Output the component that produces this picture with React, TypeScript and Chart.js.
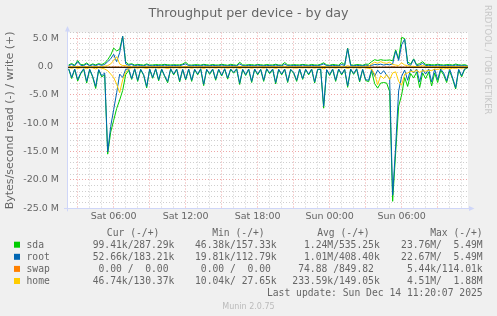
import React, { useEffect, useRef } from 'react';
import { Chart, registerables } from 'chart.js';

Chart.register(...registerables);

// ---------- text ----------
const TITLE = 'Throughput per device - by day';
const Y_TITLE = 'Bytes/second read (-) / write (+)';
const WATERMARK = 'RRDTOOL / TOBI OETIKER';
const VERSION = 'Munin 2.0.75';
const LAST_UPDATE = 'Last update: Sun Dec 14 11:20:07 2025';

// ---------- series ----------
const DEVICES = ['sda', 'root', 'swap', 'home'];
const COLORS = ['#00CC00', '#0066B3', '#FF8000', '#FFCC00'];

// samples every 15 min starting Sat 02:15 (hours since Sat 00:00)
const START_HOUR = 2.25;
const STEP_HOUR = 0.25;

// x axis: hours since Sat 00:00
const X_MIN = 2.11;
const X_MAX = 35.53;
const X_TICK_HOURS = [6, 12, 18, 24, 30];
const X_TICK_LABELS = ['Sat 06:00', 'Sat 12:00', 'Sat 18:00', 'Sun 00:00', 'Sun 06:00'];

// y axis (bytes/second)
const Y_MIN = -25e6;
const Y_MAX = 6.17e6;
const Y_TICK_VALUES = [5, 0, -5, -10, -15, -20, -25];
const Y_TICK_LABELS = ['5.0 M', '0.0  ', '-5.0 M', '-10.0 M', '-15.0 M', '-20.0 M', '-25.0 M'];

// read rates (MB/s, drawn negative)
const sdaRead = [
  0.32, 2.0, 0.38, 2.45, 1.15, 0.33, 2.8, 0.42, 1.75, 3.75,
  0.5, 1.7, 1.35, 15.4, 11.5, 9.4, 7.3, 5.8, 4.1, 1.3,
  0.55, 2.15, 0.33, 2.5, 0.42, 1.45, 3.65, 0.38, 1.95, 0.33,
  2.4, 0.38, 1.65, 2.75, 0.33, 1.35, 0.38, 2.6, 0.42, 2.25,
  0.38, 2.5, 0.42, 1.35, 0.33, 3.25, 0.42, 1.25, 0.38, 2.3,
  0.42, 1.55, 0.33, 2.1, 0.38, 1.05, 0.33, 3.05, 0.42, 1.45,
  0.38, 2.7, 0.38, 1.35, 0.42, 2.5, 0.33, 1.15, 0.38, 2.95,
  0.42, 1.35, 0.38, 2.7, 0.42, 1.05, 2.5, 0.38, 2.15, 0.42,
  1.35, 0.38, 2.8, 0.42, 0.38, 7.25, 0.48, 1.45, 0.38, 2.5,
  0.38, 1.35, 0.42, 3.55, 0.38, 1.25, 0.33, 2.6, 0.42, 2.35,
  2.55, 0.7, 2.9, 3.7, 2.8, 2.7, 2.8, 4.3, 23.76, 15.2,
  6.9, 4.9, 1.8, 3.4, 1.1, 1.9, 0.85, 3.6, 1.0, 2.0,
  0.85, 3.3, 1.0, 2.7, 0.55, 1.35, 2.7, 0.65, 2.1, 3.85,
  0.5, 1.7, 0.38, 0.099,
];
const rootRead = [
  0.25, 1.8, 0.3, 2.2, 1.0, 0.25, 2.5, 0.35, 1.6, 3.4,
  0.4, 1.5, 1.0, 15.0, 10.5, 7.5, 4.5, 1.2, 1.8, 0.35,
  0.3, 2.0, 0.25, 2.3, 0.35, 1.3, 3.4, 0.3, 1.8, 0.25,
  2.2, 0.3, 1.5, 2.5, 0.25, 1.2, 0.3, 2.4, 0.35, 2.1,
  0.3, 2.3, 0.35, 1.2, 0.25, 3.0, 0.35, 1.1, 0.3, 2.1,
  0.35, 1.4, 0.25, 1.9, 0.3, 0.9, 0.25, 2.8, 0.35, 1.3,
  0.3, 2.5, 0.3, 1.2, 0.35, 2.3, 0.25, 1.0, 0.3, 2.7,
  0.35, 1.2, 0.3, 2.5, 0.35, 0.9, 2.3, 0.3, 2.0, 0.35,
  1.2, 0.3, 2.6, 0.35, 0.3, 6.9, 0.4, 1.3, 0.3, 2.3,
  0.3, 1.2, 0.35, 3.3, 0.3, 1.1, 0.25, 2.4, 0.35, 2.2,
  2.3, 0.35, 1.6, 0.5, 1.2, 0.6, 1.4, 2.0, 22.67, 14.0,
  4.2, 1.6, 0.5, 2.3, 0.35, 1.0, 0.3, 2.6, 0.35, 1.2,
  0.3, 2.6, 0.35, 2.2, 0.3, 1.0, 2.4, 0.3, 1.9, 3.6,
  0.35, 1.5, 0.25, 0.053,
];
const swapRead = [
  0, 0, 0, 0, 0, 0, 0, 0, 0, 0,
  0, 0, 0, 0, 0, 0, 0, 0.003, 0, 0,
  0, 0, 0, 0, 0, 0, 0, 0, 0, 0,
  0, 0, 0, 0, 0, 0, 0, 0, 0, 0,
  0, 0, 0, 0, 0, 0, 0, 0, 0, 0,
  0, 0, 0, 0, 0, 0, 0, 0, 0, 0,
  0, 0, 0, 0, 0, 0, 0, 0, 0, 0,
  0, 0, 0, 0, 0, 0, 0, 0, 0, 0,
  0, 0, 0, 0, 0, 0, 0, 0, 0, 0,
  0, 0, 0, 0, 0, 0, 0, 0, 0, 0,
  0, 0, 0, 0, 0, 0, 0, 0, 0.005, 0,
  0, 0, 0, 0, 0, 0, 0, 0, 0, 0,
  0, 0, 0, 0, 0, 0, 0, 0, 0, 0,
  0, 0, 0, 0,
];
const homeRead = [
  0.05, 0.15, 0.05, 0.2, 0.1, 0.05, 0.25, 0.05, 0.1, 0.3,
  0.05, 0.15, 0.3, 0.6, 1.2, 1.8, 3.0, 4.51, 2.2, 0.9,
  0.2, 0.1, 0.05, 0.15, 0.05, 0.1, 0.2, 0.05, 0.1, 0.05,
  0.15, 0.05, 0.1, 0.2, 0.05, 0.1, 0.05, 0.15, 0.05, 0.1,
  0.05, 0.15, 0.05, 0.1, 0.05, 0.2, 0.05, 0.1, 0.05, 0.15,
  0.05, 0.1, 0.05, 0.15, 0.05, 0.1, 0.05, 0.2, 0.05, 0.1,
  0.05, 0.15, 0.05, 0.1, 0.05, 0.15, 0.05, 0.1, 0.05, 0.2,
  0.05, 0.1, 0.05, 0.15, 0.05, 0.1, 0.15, 0.05, 0.1, 0.05,
  0.1, 0.05, 0.15, 0.05, 0.05, 0.3, 0.05, 0.1, 0.05, 0.15,
  0.05, 0.1, 0.05, 0.2, 0.05, 0.1, 0.05, 0.15, 0.05, 0.1,
  0.2, 0.3, 1.2, 3.1, 1.5, 2.0, 1.3, 2.2, 1.0, 0.8,
  2.5, 3.2, 1.2, 1.0, 0.7, 0.8, 0.5, 0.9, 0.6, 0.7,
  0.5, 0.6, 0.3, 0.4, 0.2, 0.3, 0.2, 0.3, 0.15, 0.2,
  0.1, 0.15, 0.1, 0.047,
];

// write rates (MB/s, drawn positive)
const sdaWrite = [
  0.43, 0.67, 0.36, 1.2, 0.48, 0.45, 0.77, 0.36, 0.6, 0.43,
  0.65, 0.48, 0.75, 1.35, 2.15, 3.4, 2.9, 3.2, 5.49, 0.95,
  0.52, 0.63, 0.4, 0.51, 0.47, 0.38, 0.6, 0.41, 0.42, 0.48,
  0.45, 0.44, 0.52, 0.45, 0.42, 0.46, 0.44, 0.43, 0.57, 0.9,
  0.43, 0.4, 0.46, 0.47, 0.39, 0.52, 0.46, 0.38, 0.5, 0.41,
  0.42, 0.53, 0.45, 0.37, 0.53, 0.44, 0.36, 0.9, 0.43, 0.4,
  0.47, 0.47, 0.39, 0.51, 0.46, 0.38, 0.5, 0.42, 0.42, 0.54,
  0.41, 0.4, 0.85, 0.43, 0.41, 0.47, 0.44, 0.42, 0.51, 0.45,
  0.38, 0.51, 0.42, 0.4, 0.54, 0.8, 0.43, 0.36, 0.51, 0.44,
  0.37, 0.85, 0.43, 3.4, 0.45, 0.37, 0.49, 0.46, 0.36, 0.55,
  0.55, 1.0, 1.35, 1.2, 1.35, 1.25, 1.25, 1.3, 1.15, 3.1,
  1.5, 5.3, 5.1, 0.95, 0.6, 1.5, 0.47, 0.65, 1.0, 0.5,
  0.52, 0.45, 0.44, 0.54, 0.47, 0.4, 0.48, 0.48, 0.4, 0.57,
  0.45, 0.39, 0.47, 0.287,
];
const rootWrite = [
  0.3, 0.5, 0.25, 1.0, 0.35, 0.3, 0.6, 0.25, 0.45, 0.3,
  0.5, 0.35, 0.5, 1.0, 1.5, 2.3, 1.0, 2.6, 5.49, 0.6,
  0.35, 0.5, 0.25, 0.4, 0.3, 0.25, 0.45, 0.3, 0.25, 0.35,
  0.3, 0.25, 0.4, 0.3, 0.25, 0.35, 0.3, 0.25, 0.45, 0.6,
  0.3, 0.25, 0.35, 0.3, 0.25, 0.4, 0.3, 0.25, 0.35, 0.3,
  0.25, 0.4, 0.3, 0.25, 0.35, 0.3, 0.25, 0.6, 0.3, 0.25,
  0.35, 0.3, 0.25, 0.4, 0.3, 0.25, 0.35, 0.3, 0.25, 0.4,
  0.3, 0.25, 0.55, 0.3, 0.25, 0.35, 0.3, 0.25, 0.4, 0.3,
  0.25, 0.35, 0.3, 0.25, 0.4, 0.6, 0.3, 0.25, 0.35, 0.3,
  0.25, 0.5, 0.3, 3.3, 0.3, 0.25, 0.35, 0.3, 0.25, 0.4,
  0.3, 0.35, 0.5, 0.45, 0.55, 0.4, 0.5, 0.45, 0.6, 2.9,
  1.2, 4.0, 5.0, 0.6, 0.35, 1.4, 0.3, 0.4, 0.7, 0.3,
  0.35, 0.3, 0.25, 0.4, 0.3, 0.25, 0.35, 0.3, 0.25, 0.4,
  0.3, 0.25, 0.3, 0.183,
];
const swapWrite = [
  0, 0, 0, 0, 0, 0, 0, 0, 0, 0,
  0, 0, 0, 0, 0, 0.02, 0.05, 0, 0, 0,
  0, 0, 0, 0, 0, 0, 0, 0, 0, 0,
  0, 0, 0, 0, 0, 0, 0, 0, 0, 0,
  0, 0, 0, 0, 0, 0, 0, 0, 0, 0,
  0, 0, 0, 0, 0, 0, 0, 0, 0, 0,
  0, 0, 0, 0, 0, 0, 0, 0, 0, 0,
  0, 0, 0, 0, 0, 0, 0, 0, 0, 0,
  0, 0, 0, 0, 0, 0, 0, 0, 0, 0,
  0, 0, 0, 0, 0, 0, 0, 0, 0, 0,
  0, 0, 0, 0, 0, 0, 0.03, 0, 0.114, 0.02,
  0, 0, 0, 0, 0, 0, 0, 0, 0, 0,
  0, 0, 0, 0, 0, 0, 0, 0, 0, 0,
  0, 0, 0, 0,
];
const homeWrite = [
  0.08, 0.12, 0.06, 0.15, 0.08, 0.1, 0.12, 0.06, 0.1, 0.08,
  0.1, 0.08, 0.2, 0.3, 0.6, 1.2, 1.88, 0.6, 0.3, 0.3,
  0.12, 0.08, 0.1, 0.06, 0.12, 0.08, 0.1, 0.06, 0.12, 0.08,
  0.1, 0.14, 0.07, 0.1, 0.12, 0.06, 0.09, 0.13, 0.07, 0.15,
  0.08, 0.1, 0.06, 0.12, 0.09, 0.07, 0.11, 0.08, 0.1, 0.06,
  0.12, 0.08, 0.1, 0.07, 0.13, 0.09, 0.06, 0.18, 0.08, 0.1,
  0.07, 0.12, 0.09, 0.06, 0.11, 0.08, 0.1, 0.07, 0.12, 0.09,
  0.06, 0.1, 0.2, 0.08, 0.11, 0.07, 0.09, 0.12, 0.06, 0.1,
  0.08, 0.11, 0.07, 0.1, 0.09, 0.15, 0.08, 0.06, 0.11, 0.09,
  0.07, 0.12, 0.08, 0.3, 0.1, 0.07, 0.09, 0.11, 0.06, 0.1,
  0.2, 0.6, 0.9, 0.7, 1.0, 0.8, 0.7, 0.9, 0.5, 0.4,
  0.3, 0.8, 0.4, 0.3, 0.2, 0.15, 0.12, 0.2, 0.3, 0.15,
  0.12, 0.1, 0.14, 0.09, 0.12, 0.1, 0.08, 0.13, 0.1, 0.12,
  0.1, 0.09, 0.12, 0.13,
];

// ---------- legend statistics ----------
const LEGEND_HEADERS = ['Cur (-/+)', 'Min (-/+)', 'Avg (-/+)', 'Max (-/+)'];
const CUR = [' 99.41k/287.29k', ' 52.66k/183.21k', '  0.00 /  0.00 ', ' 46.74k/130.37k'];
const MIN = [' 46.38k/157.33k', ' 19.81k/112.79k', '  0.00 /  0.00 ', ' 10.04k/ 27.65k'];
const AVG = ['  1.24M/535.25k', '  1.01M/408.40k', ' 74.88 /849.82 ', '233.59k/149.05k'];
const MAX = ['23.76M/  5.49M', '22.67M/  5.49M', '5.44k/114.01k', '4.51M/  1.88M'];

const READS = [sdaRead, rootRead, swapRead, homeRead];
const WRITES = [sdaWrite, rootWrite, swapWrite, homeWrite];

const FONT_SANS = 'DejaVu Sans';
const FONT_MONO = 'DejaVu Sans Mono';
const TEXT_COLOR = '#666666';
const AXIS_COLOR = '#CFD6F8';
const GRID_MINOR = 'rgba(140,140,140,0.42)';
const GRID_MAJOR = 'rgba(222,79,79,0.5)';

const toPoints = (arr: number[], sign: number) =>
  arr.map((v, i) => ({ x: START_HOUR + i * STEP_HOUR, y: sign * v * 1e6 }));

const decorPlugin = {
  id: 'muninDecor',
  beforeDraw(chart: any) {
    const { ctx, chartArea: a, width, height } = chart;
    ctx.save();
    ctx.fillStyle = '#F0F0F0';
    ctx.fillRect(0, 0, width, height);
    ctx.fillStyle = '#FFFFFF';
    ctx.fillRect(a.left, a.top, a.right - a.left, a.bottom - a.top);
    ctx.restore();
  },
  afterDraw(chart: any) {
    const { ctx, chartArea: a } = chart;
    ctx.save();
    // axes + arrows
    ctx.strokeStyle = AXIS_COLOR;
    ctx.fillStyle = AXIS_COLOR;
    ctx.lineWidth = 1;
    const ax = Math.round(a.left) + 0.5;
    const ay = Math.round(a.bottom) + 0.5;
    ctx.beginPath();
    ctx.moveTo(ax, a.bottom + 3);
    ctx.lineTo(ax, a.top - 3);
    ctx.moveTo(a.left - 3, ay);
    ctx.lineTo(a.right + 2, ay);
    ctx.stroke();
    ctx.beginPath();
    ctx.moveTo(ax - 2.5, a.top - 1);
    ctx.lineTo(ax + 2.5, a.top - 1);
    ctx.lineTo(ax, a.top - 6.5);
    ctx.closePath();
    ctx.fill();
    ctx.beginPath();
    ctx.moveTo(a.right + 1, ay - 2.5);
    ctx.lineTo(a.right + 1, ay + 2.5);
    ctx.lineTo(a.right + 6.5, ay);
    ctx.closePath();
    ctx.fill();

    // title
    ctx.fillStyle = TEXT_COLOR;
    ctx.font = `12.7px "${FONT_SANS}"`;
    ctx.textAlign = 'center';
    ctx.textBaseline = 'alphabetic';
    ctx.fillText(TITLE, 248.5, 17.3);

    // watermark
    ctx.save();
    ctx.translate(484.5, 5);
    ctx.rotate(Math.PI / 2);
    ctx.fillStyle = '#C8C8C8';
    ctx.font = `8.5px "${FONT_SANS}"`;
    ctx.textAlign = 'left';
    ctx.textBaseline = 'alphabetic';
    ctx.fillText(WATERMARK, 0, 0);
    ctx.restore();

    // legend table
    ctx.font = `9.7px "${FONT_MONO}"`;
    ctx.fillStyle = TEXT_COLOR;
    ctx.textBaseline = 'alphabetic';
    const headerY = 236.3;
    ctx.textAlign = 'left';
    ctx.fillText(LEGEND_HEADERS[0], 106.8, headerY);
    ctx.fillText(LEGEND_HEADERS[1], 212.2, headerY);
    ctx.fillText(LEGEND_HEADERS[2], 317.2, headerY);
    ctx.textAlign = 'right';
    ctx.fillText(LEGEND_HEADERS[3], 482.7, headerY);
    DEVICES.forEach((name, r) => {
      const y = 248 + r * 12.1;
      ctx.fillStyle = COLORS[r];
      ctx.fillRect(14, y - 6.3, 6, 6);
      ctx.fillStyle = TEXT_COLOR;
      ctx.textAlign = 'left';
      ctx.fillText(name, 26.5, y);
      ctx.fillText(CUR[r], 86.85, y);
      ctx.fillText(MIN[r], 189.15, y);
      ctx.fillText(AVG[r], 292.3, y);
      ctx.textAlign = 'right';
      ctx.fillText(MAX[r], 482.7, y);
    });
    ctx.textAlign = 'right';
    ctx.fillText(LAST_UPDATE, 482.7, 296.3);

    // version
    ctx.fillStyle = '#BBBBBB';
    ctx.font = `8px "${FONT_SANS}"`;
    ctx.textAlign = 'center';
    ctx.fillText(VERSION, 248.5, 309);
    ctx.restore();
  },
};

export default function App() {
  const ref = useRef<HTMLCanvasElement>(null);

  useEffect(() => {
    const canvas = ref.current;
    if (!canvas) return;

    const datasets: any[] = [];
    // zero rule on top
    datasets.push({
      label: 'zero',
      data: [{ x: X_MIN, y: 0 }, { x: X_MAX, y: 0 }],
      borderColor: '#000000',
      borderWidth: 1,
      pointRadius: 0,
      order: 0,
    });
    // rrdtool draws later fields on top: sda (bottom) ... home (top)
    DEVICES.forEach((name, d) => {
      const order = 10 - d;
      datasets.push({
        label: name + ' read',
        data: toPoints(READS[d], -1),
        borderColor: COLORS[d],
        borderWidth: 1,
        pointRadius: 0,
        tension: 0,
        order,
      });
      datasets.push({
        label: name + ' write',
        data: toPoints(WRITES[d], 1),
        borderColor: COLORS[d],
        borderWidth: 1,
        pointRadius: 0,
        tension: 0,
        order,
      });
    });

    const chart = new Chart(canvas, {
      type: 'line',
      data: { datasets },
      options: {
        animation: false,
        responsive: false,
        devicePixelRatio: 1,
        events: [],
        layout: { padding: { left: 0, right: 29, top: 32.5, bottom: 87.7 } },
        plugins: {
          legend: { display: false },
          tooltip: { enabled: false },
          title: { display: false },
        },
        scales: {
          x: {
            type: 'linear',
            min: X_MIN,
            max: X_MAX,
            afterFit: (s: any) => {
              s.height = 20;
            },
            grid: {
              drawTicks: false,
              lineWidth: 1,
              color: (c: any) => (Math.round(c.tick.value) % 3 === 0 ? GRID_MAJOR : GRID_MINOR),
            },
            border: { display: false, dash: [1, 2] },
            ticks: {
              stepSize: 1,
              maxTicksLimit: 100,
              includeBounds: false,
              autoSkip: false,
              maxRotation: 0,
              minRotation: 0,
              padding: 3,
              color: TEXT_COLOR,
              font: { family: FONT_SANS, size: 9.5 },
              callback: (v: any) => {
                const k = X_TICK_HOURS.indexOf(Math.round(Number(v)));
                return k >= 0 ? X_TICK_LABELS[k] : '';
              },
            },
          },
          y: {
            type: 'linear',
            min: Y_MIN,
            max: Y_MAX,
            afterFit: (s: any) => {
              s.width = 67;
            },
            grid: {
              drawTicks: false,
              lineWidth: 1,
              color: (c: any) => (Math.round(c.tick.value / 1e6) % 5 === 0 ? GRID_MAJOR : GRID_MINOR),
            },
            border: { display: false, dash: [1, 2] },
            title: {
              display: true,
              text: Y_TITLE,
              color: TEXT_COLOR,
              font: { family: FONT_SANS, size: 11 },
              padding: { top: 4, bottom: 0 },
            },
            ticks: {
              stepSize: 1e6,
              maxTicksLimit: 100,
              includeBounds: false,
              autoSkip: false,
              padding: 8,
              color: TEXT_COLOR,
              font: { family: FONT_SANS, size: 9.5 },
              callback: (v: any) => {
                const k = Y_TICK_VALUES.indexOf(Math.round(Number(v) / 1e6));
                return k >= 0 ? Y_TICK_LABELS[k] : '';
              },
            },
          },
        },
      },
      plugins: [decorPlugin],
    } as any);

    return () => chart.destroy();
  }, []);

  return (
    <div style={{ position: 'fixed', left: 0, top: 0, width: 497, height: 316, background: '#F0F0F0' }}>
      <canvas ref={ref} width={497} height={316} style={{ display: 'block', width: 497, height: 316 }} />
    </div>
  );
}
